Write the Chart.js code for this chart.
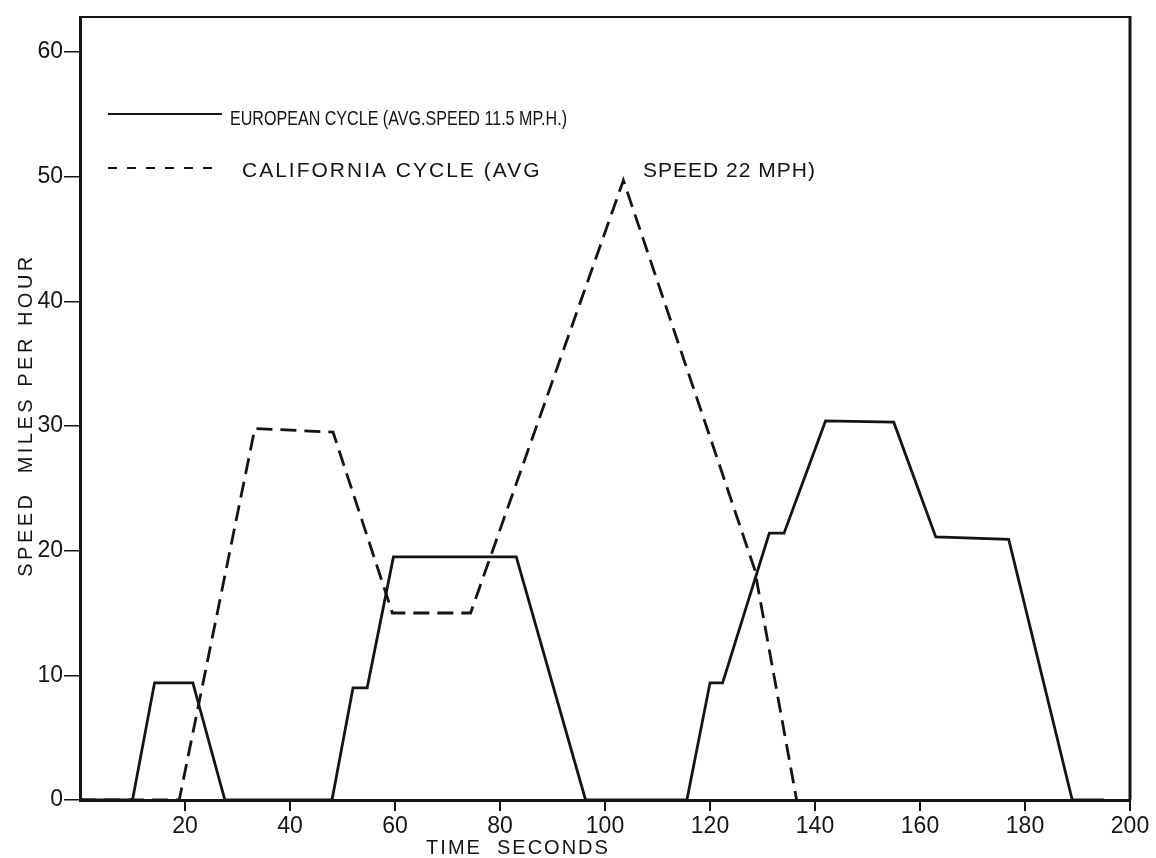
<!DOCTYPE html>
<html>
<head>
<meta charset="utf-8">
<title>European and California driving cycles</title>
<script src="https://cdn.jsdelivr.net/npm/chart.js@4.4.0/dist/chart.umd.min.js"></script>
<style>
  html, body { margin: 0; padding: 0; background: #ffffff; }
  #cycleChart { display: block; }
</style>
</head>
<body>
<canvas id="cycleChart" width="1156" height="858"></canvas>
<script>
// Speed vs time for the two driving cycles
const europeanTime  = [0, 10, 14.2, 21.5, 27.6, 48, 52, 54.7, 59.7, 83.1, 96.3, 115.6, 120, 122.4, 131.3, 134.1, 142, 155, 163, 176.9, 189, 195];
const europeanSpeed = [0, 0, 9.4, 9.4, 0, 0, 9, 9, 19.5, 19.5, 0, 0, 9.4, 9.4, 21.4, 21.4, 30.4, 30.3, 21.1, 20.9, 0, 0];

const californiaTime  = [0, 18.9, 33.3, 48.2, 59.5, 74.4, 103.5, 128.5, 136.5];
const californiaSpeed = [0, 0, 29.8, 29.5, 15, 15, 49.7, 18.5, 0];

const xTicks = [20, 40, 60, 80, 100, 120, 140, 160, 180, 200];
const yTicks = [0, 10, 20, 30, 40, 50, 60];

const europeanLabel = 'EUROPEAN CYCLE (AVG.SPEED 11.5 MP.H.)';
const californiaLabel = ['CALIFORNIA CYCLE (AVG', 'SPEED 22 MPH)'];
const xTitle = 'TIME  SECONDS';
const yTitle = 'SPEED  MILES PER HOUR';

const INK = '#141414';
const FONT = '"Liberation Sans", "DejaVu Sans", sans-serif';

function toPoints(xs, ys) {
    return xs.map((x, i) => ({ x: x, y: ys[i] }));
}

// squeeze a string into a given width (the typed legend is condensed)
function fitText(ctx, text, x, y, width) {
    const w = ctx.measureText(text).width;
    ctx.save();
    ctx.translate(x, y);
    ctx.scale(width / w, 1);
    ctx.fillText(text, 0, 0);
    ctx.restore();
}

// frame, legend and axis titles drawn straight onto the canvas
const paperPlugin = {
    id: 'paper',
    afterDraw(chart) {
        const { ctx, chartArea: a } = chart;
        ctx.save();
        ctx.strokeStyle = INK;
        ctx.lineCap = 'butt';

        // top and right edges of the box
        ctx.lineWidth = 2;
        ctx.beginPath();
        ctx.moveTo(a.left, a.top);
        ctx.lineTo(a.right, a.top);
        ctx.stroke();
        ctx.lineWidth = 3;
        ctx.beginPath();
        ctx.moveTo(a.right, a.top - 1);
        ctx.lineTo(a.right, a.bottom);
        ctx.stroke();

        // legend
        const sets = chart.data.datasets;
        ctx.lineWidth = 2;
        ctx.setLineDash([]);
        ctx.beginPath();
        ctx.moveTo(108, 114);
        ctx.lineTo(222, 114);
        ctx.stroke();
        ctx.setLineDash([9, 10]);
        ctx.beginPath();
        ctx.moveTo(108, 168);
        ctx.lineTo(222, 168);
        ctx.stroke();
        ctx.setLineDash([]);

        ctx.fillStyle = INK;
        ctx.font = '21px ' + FONT;
        ctx.textBaseline = 'alphabetic';
        ctx.textAlign = 'left';
        ctx.letterSpacing = '0px';
        fitText(ctx, sets[0].label, 230, 125, 337);
        ctx.letterSpacing = '2px';
        ctx.fillText(californiaLabel[0], 242, 177);
        ctx.letterSpacing = '1px';
        ctx.fillText(californiaLabel[1], 643, 177);

        // axis titles
        ctx.font = '20px ' + FONT;
        ctx.letterSpacing = '2px';
        ctx.textAlign = 'center';
        ctx.fillText(xTitle, 518, 854);
        ctx.letterSpacing = '3.5px';
        ctx.translate(26, 415);
        ctx.rotate(-Math.PI / 2);
        ctx.textBaseline = 'middle';
        ctx.fillText(yTitle, 0, 0);
        ctx.restore();
    }
};

const ctx = document.getElementById('cycleChart');

window.cycleChart = new Chart(ctx, {
    type: 'line',
    data: {
        datasets: [{
            label: europeanLabel,
            data: toPoints(europeanTime, europeanSpeed),
            borderColor: INK,
            borderWidth: 2.8,
            pointRadius: 0,
            tension: 0,
            fill: false
        }, {
            label: californiaLabel.join(' '),
            data: toPoints(californiaTime, californiaSpeed),
            borderColor: INK,
            borderWidth: 2.8,
            borderDash: [16, 8],
            pointRadius: 0,
            tension: 0,
            fill: false
        }]
    },
    options: {
        responsive: false,
        animation: false,
        devicePixelRatio: 1,
        layout: {
            padding: { left: 0, top: 17, right: 26, bottom: 0 }
        },
        scales: {
            x: {
                type: 'linear',
                min: 0,
                max: 200,
                afterFit: (scale) => { scale.height = 58; },
                afterBuildTicks: (scale) => {
                    scale.ticks = xTicks.map(v => ({ value: v }));
                },
                ticks: {
                    color: INK,
                    font: { family: FONT, size: 23 },
                    padding: 2,
                    maxRotation: 0,
                    autoSkip: false
                },
                grid: {
                    drawOnChartArea: false,
                    drawTicks: true,
                    tickLength: 11,
                    color: INK,
                    lineWidth: 2
                },
                border: { display: true, color: INK, width: 3 }
            },
            y: {
                min: 0,
                max: 62.8,
                afterFit: (scale) => { scale.width = 80; },
                afterBuildTicks: (scale) => {
                    scale.ticks = yTicks.map(v => ({ value: v }));
                },
                ticks: {
                    color: INK,
                    font: { family: FONT, size: 23 },
                    padding: 1,
                    autoSkip: false
                },
                grid: {
                    drawOnChartArea: false,
                    drawTicks: true,
                    tickLength: 16,
                    color: INK,
                    lineWidth: 1.5
                },
                border: { display: true, color: INK, width: 3 }
            }
        },
        plugins: {
            legend: { display: false },
            tooltip: { enabled: false }
        }
    },
    plugins: [paperPlugin]
});
</script>
</body>
</html>
